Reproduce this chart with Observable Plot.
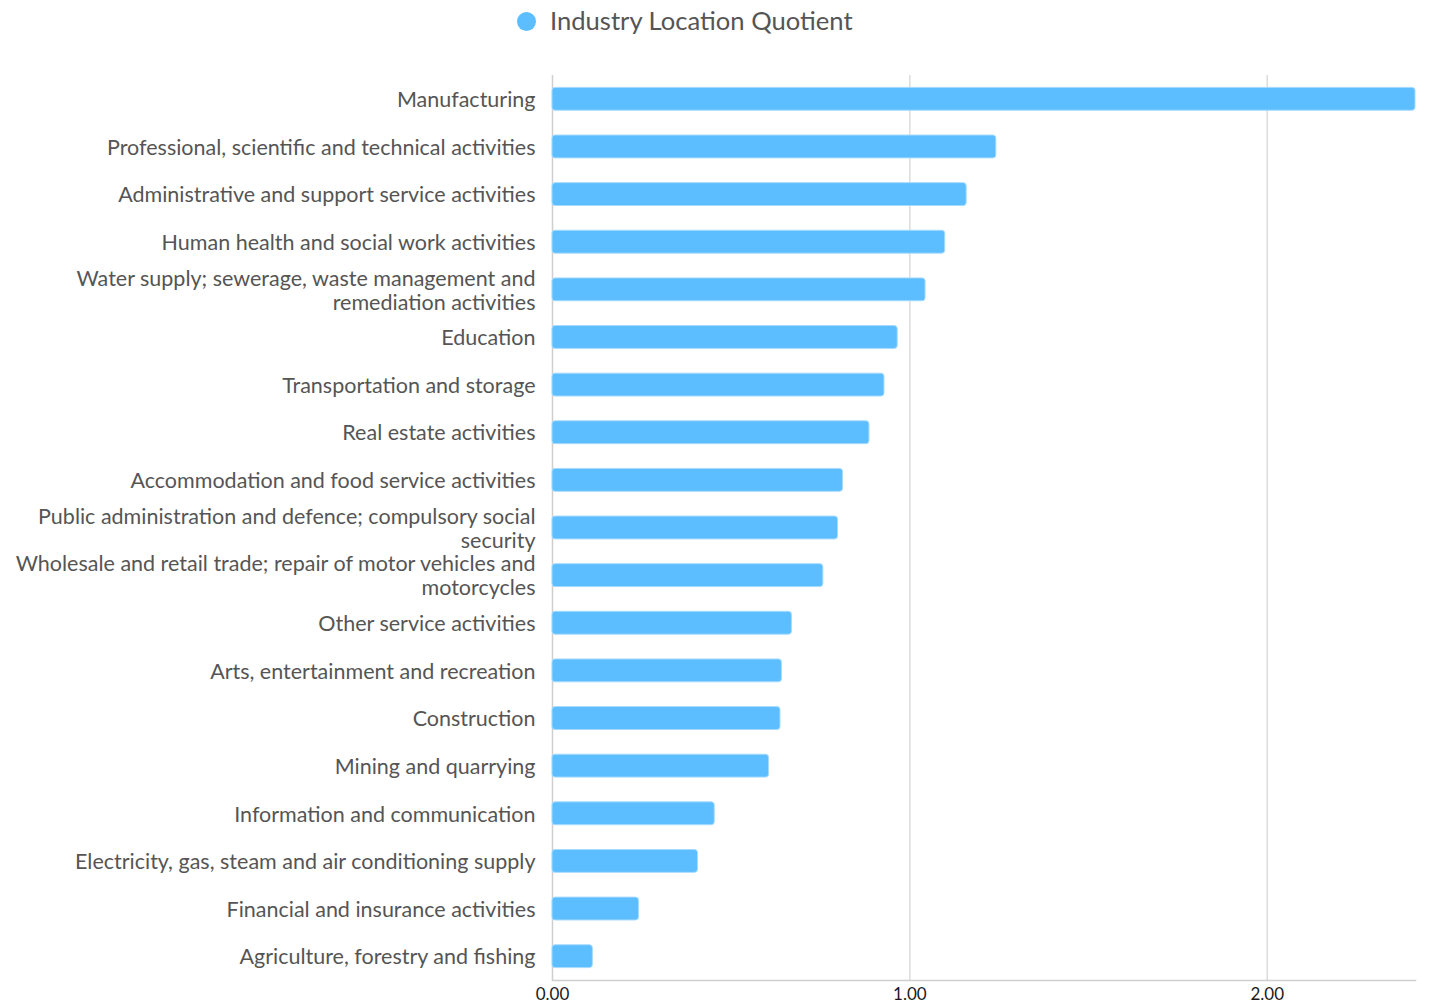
<!DOCTYPE html>
<html>
<head>
<meta charset="utf-8">
<script src="https://cdn.jsdelivr.net/npm/d3@7"></script>
<script src="https://cdn.jsdelivr.net/npm/@observablehq/plot@0.6"></script>
<style>
  html, body { margin: 0; padding: 0; background: #fff; }
  #wrap { width: 1429px; position: relative; }
  #legend { position: relative; height: 50px; width: 1429px; font-family: Lato, sans-serif; }
  #legend .dot { position: absolute; left: 516.5px; top: 11.5px; width: 19px; height: 19px; border-radius: 50%; background: #5cbdff; }
  #legend .lab { position: absolute; left: 550px; top: 20px; transform: translateY(-50%); font-size: 25.6px; color: #555; white-space: nowrap; }
</style>
</head>
<body>
<div id="wrap">
  <div id="legend"><div class="dot"></div><div class="lab">Industry Location Quotient</div></div>
  <div id="chart"></div>
</div>
<script>
const categories = [
  "Manufacturing",
  "Professional, scientific and technical activities",
  "Administrative and support service activities",
  "Human health and social work activities",
  "Water supply; sewerage, waste management and remediation activities",
  "Education",
  "Transportation and storage",
  "Real estate activities",
  "Accommodation and food service activities",
  "Public administration and defence; compulsory social security",
  "Wholesale and retail trade; repair of motor vehicles and motorcycles",
  "Other service activities",
  "Arts, entertainment and recreation",
  "Construction",
  "Mining and quarrying",
  "Information and communication",
  "Electricity, gas, steam and air conditioning supply",
  "Financial and insurance activities",
  "Agriculture, forestry and fishing"
];
const labelLines = [
  "Manufacturing",
  "Professional, scientific and technical activities",
  "Administrative and support service activities",
  "Human health and social work activities",
  "Water supply; sewerage, waste management and\nremediation activities",
  "Education",
  "Transportation and storage",
  "Real estate activities",
  "Accommodation and food service activities",
  "Public administration and defence; compulsory social\nsecurity",
  "Wholesale and retail trade; repair of motor vehicles and\nmotorcycles",
  "Other service activities",
  "Arts, entertainment and recreation",
  "Construction",
  "Mining and quarrying",
  "Information and communication",
  "Electricity, gas, steam and air conditioning supply",
  "Financial and insurance activities",
  "Agriculture, forestry and fishing"
];
const values = [2.415, 1.242, 1.159, 1.099, 1.044, 0.966, 0.929, 0.887, 0.813, 0.799, 0.758, 0.670, 0.642, 0.638, 0.606, 0.454, 0.407, 0.242, 0.113];
const xTicks = [0, 1, 2];

const data = categories.map((c, i) => ({category: c, value: values[i]}));
const labelOf = new Map(categories.map((c, i) => [c, labelLines[i]]));

const chart = Plot.plot({
  width: 1429,
  height: 957,
  marginLeft: 552,
  marginRight: 14,
  marginTop: 25,
  marginBottom: 27,
  style: {fontFamily: "Lato, sans-serif", background: "#fff"},
  x: {domain: [0, d3.max(values)], ticks: xTicks},
  y: {domain: categories, paddingInner: 0.52, paddingOuter: 0.26, round: false},
  marks: [
    Plot.ruleX(xTicks.slice(1), {stroke: "#dcdcdc", strokeWidth: 1.5}),
    Plot.ruleX([0], {stroke: "#cfcfcf", strokeWidth: 1.5}),
    Plot.frame({anchor: "bottom", stroke: "#cfcfcf", strokeWidth: 1.5}),
    Plot.barX(data, {x: "value", y: "category", fill: "#5cbdff", stroke: "#a6dbff", strokeWidth: 1, rx: 3, ry: 3}),
    Plot.axisY({tickSize: 0, tickPadding: 17, tickFormat: d => labelOf.get(d), fontSize: 21.5, fill: "#555", label: null, lineHeight: 1.12}),
    Plot.axisX({ticks: xTicks, tickSize: 0, tickPadding: 7, tickFormat: d3.format(".2f"), fontSize: 17, fill: "#1a1a1a", label: null})
  ]
});
document.getElementById("chart").appendChild(chart);
</script>
</body>
</html>
